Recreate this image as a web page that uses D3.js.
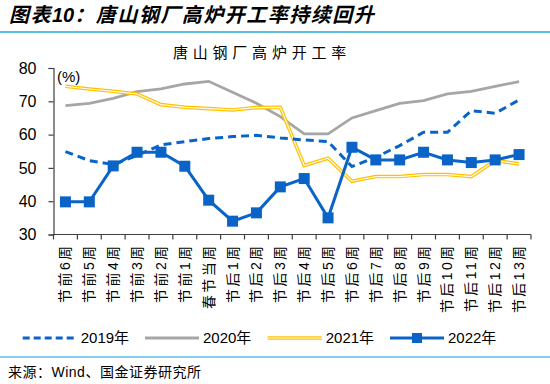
<!DOCTYPE html>
<html>
<head>
<meta charset="utf-8">
<script src="https://cdn.jsdelivr.net/npm/d3@7"></script>
<style>
  body { margin: 0; background: #fff; }
  text { font-family: "Liberation Sans", Arial, "Noto Sans CJK SC", sans-serif; fill: #000; }
</style>
</head>
<body>
<div id="chart"></div>
<script>
// categories (weeks around Spring Festival)
var categories = ["节前6周", "节前5周", "节前4周", "节前3周", "节前2周", "节前1周", "春节当周",
  "节后1周", "节后2周", "节后3周", "节后4周", "节后5周", "节后6周", "节后7周", "节后8周",
  "节后9周", "节后10周", "节后11周", "节后12周", "节后13周"];

// blast furnace operating rate, %
var s2019 = [54.9, 52.2, 51.0, 53.7, 56.9, 57.9, 58.8, 59.4, 59.8, 59.0, 58.4, 57.9, 50.4, 53.2, 56.7, 60.7, 60.7, 67.2, 66.4, 70.4];
var s2020 = [68.7, 69.4, 70.9, 72.9, 73.7, 75.2, 76.0, 72.7, 69.4, 65.4, 60.2, 60.2, 65.0, 67.2, 69.4, 70.2, 72.2, 73.0, 74.5, 75.9];
var s2021 = [74.5, 73.7, 73.0, 72.2, 69.0, 68.2, 67.8, 67.4, 68.1, 68.2, 50.7, 52.9, 46.0, 47.4, 47.4, 48.0, 48.0, 47.4, 52.2, 51.2];
var s2022 = [39.8, 39.8, 50.6, 54.7, 54.7, 50.5, 40.3, 34.0, 36.5, 44.3, 46.8, 35.0, 56.2, 52.4, 52.4, 54.7, 52.4, 51.6, 52.4, 54.0];

var yTicks = [30, 40, 50, 60, 70, 80];
var legendNames = ["2019年", "2020年", "2021年", "2022年"];

var W = 550, H = 384;
var blue = "#0a64c8", gray = "#a6a6a6", yellow = "#ffc000", rule = "#5bbde6";
var cjk = "\"Noto Sans CJK SC\", sans-serif";

var svg = d3.select("#chart").append("svg")
  .attr("width", W)
  .attr("height", H);

// header
var head = svg.append("text")
  .attr("x", 9).attr("y", 22)
  .style("font-size", "20px")
  .style("font-weight", "bold")
  .style("font-style", "italic");
head.append("tspan").style("letter-spacing", "1.5px").text("图表");
head.append("tspan").text("10");
head.append("tspan").style("letter-spacing", "1.5px").text("：唐山钢厂高炉开工率持续回升");
svg.append("line")
  .attr("x1", 0).attr("x2", W).attr("y1", 32).attr("y2", 32)
  .attr("stroke", rule).attr("stroke-width", 2);

svg.append("text")
  .attr("x", 262).attr("y", 58)
  .attr("text-anchor", "middle")
  .style("font-family", cjk)
  .style("font-size", "15px")
  .style("letter-spacing", "4.8px")
  .text("唐山钢厂高炉开工率");

// scales
var x = d3.scaleBand()
  .domain(categories)
  .range([53.5, 531]);

var y = d3.scaleLinear()
  .domain([30, 80])
  .range([234.5, 68]);

var cx = function (i) { return x(categories[i]) + x.bandwidth() / 2; };

// y axis
svg.append("g")
  .attr("transform", "translate(53.5,0)")
  .call(d3.axisLeft(y).tickValues(yTicks).tickSize(5).tickPadding(12))
  .call(function (g) {
    g.select(".domain").attr("stroke", "#404040").attr("stroke-width", 1.2);
    g.selectAll(".tick line").attr("stroke", "#404040").attr("stroke-width", 1.2);
    g.selectAll(".tick text").style("font-size", "16px").attr("fill", "#000");
  });

svg.append("text")
  .attr("x", 57).attr("y", 82)
  .style("font-size", "15px")
  .text("(%)");

// x axis: line, ticks between categories, rotated labels
var xg = svg.append("g");
xg.append("line")
  .attr("x1", x.range()[0]).attr("x2", x.range()[1])
  .attr("y1", y(30)).attr("y2", y(30))
  .attr("stroke", "#404040").attr("stroke-width", 1.2);
var bounds = categories.map(function (c) { return x(c); }).concat([x.range()[1]]);
xg.selectAll(".xt")
  .data(bounds)
  .join("line")
  .attr("class", "xt")
  .attr("x1", function (d) { return d; }).attr("x2", function (d) { return d; })
  .attr("y1", y(30)).attr("y2", y(30) + 5)
  .attr("stroke", "#404040").attr("stroke-width", 1.2);
xg.selectAll(".xl")
  .data(categories)
  .join("text")
  .attr("class", "xl")
  .attr("transform", function (d, i) { return "translate(" + cx(i) + "," + (y(30) + 9) + ") rotate(-90)"; })
  .attr("text-anchor", "end")
  .attr("dy", "0.36em")
  .style("font-size", "14px")
  .style("letter-spacing", "2.4px")
  .text(function (d) { return d; });

// series
var line = d3.line()
  .x(function (d, i) { return cx(i); })
  .y(function (d) { return y(d); });

svg.append("path").datum(s2020)
  .attr("d", line).attr("fill", "none")
  .attr("stroke", gray).attr("stroke-width", 2.8);

svg.append("path").datum(s2021)
  .attr("d", line).attr("fill", "none")
  .attr("stroke", yellow).attr("stroke-width", 3.6);
svg.append("path").datum(s2021)
  .attr("d", line).attr("fill", "none")
  .attr("stroke", "#fffbe8").attr("stroke-width", 1.2);

svg.append("path").datum(s2019)
  .attr("d", line).attr("fill", "none")
  .attr("stroke", blue).attr("stroke-width", 3)
  .attr("stroke-dasharray", "8,5");

svg.append("path").datum(s2022)
  .attr("d", line).attr("fill", "none")
  .attr("stroke", blue).attr("stroke-width", 3);
svg.selectAll(".m22")
  .data(s2022)
  .join("rect")
  .attr("class", "m22")
  .attr("x", function (d, i) { return cx(i) - 5.5; })
  .attr("y", function (d) { return y(d) - 5.5; })
  .attr("width", 11).attr("height", 11)
  .attr("fill", blue);

// legend
var legX = [22.7, 145, 267.7, 390];
var leg = svg.append("g").attr("transform", "translate(0,338)");
legendNames.forEach(function (name, k) {
  var g = leg.append("g").attr("transform", "translate(" + legX[k] + ",0)");
  if (k === 0) {
    g.append("line").attr("x1", 0).attr("x2", 54).attr("stroke", blue)
      .attr("stroke-width", 3).attr("stroke-dasharray", "7,4");
  } else if (k === 1) {
    g.append("line").attr("x1", 0).attr("x2", 54).attr("stroke", gray).attr("stroke-width", 3);
  } else if (k === 2) {
    g.append("line").attr("x1", 0).attr("x2", 54).attr("stroke", yellow).attr("stroke-width", 3.6);
    g.append("line").attr("x1", 0).attr("x2", 54).attr("stroke", "#fffbe8").attr("stroke-width", 1.2);
  } else {
    g.append("line").attr("x1", 0).attr("x2", 54).attr("stroke", blue).attr("stroke-width", 3);
    g.append("rect").attr("x", 22).attr("y", -5).attr("width", 10).attr("height", 10).attr("fill", blue);
  }
  g.append("text")
    .attr("x", 58).attr("dy", "0.36em")
    .style("font-size", "15px")
    .text(name);
});

// footer
svg.append("line")
  .attr("x1", 0).attr("x2", W).attr("y1", 357).attr("y2", 357)
  .attr("stroke", rule).attr("stroke-width", 1.5);
svg.append("text")
  .attr("x", 8).attr("y", 377)
  .style("font-size", "14px")
  .style("letter-spacing", "0.5px")
  .text("来源：Wind、国金证券研究所");
</script>
</body>
</html>
